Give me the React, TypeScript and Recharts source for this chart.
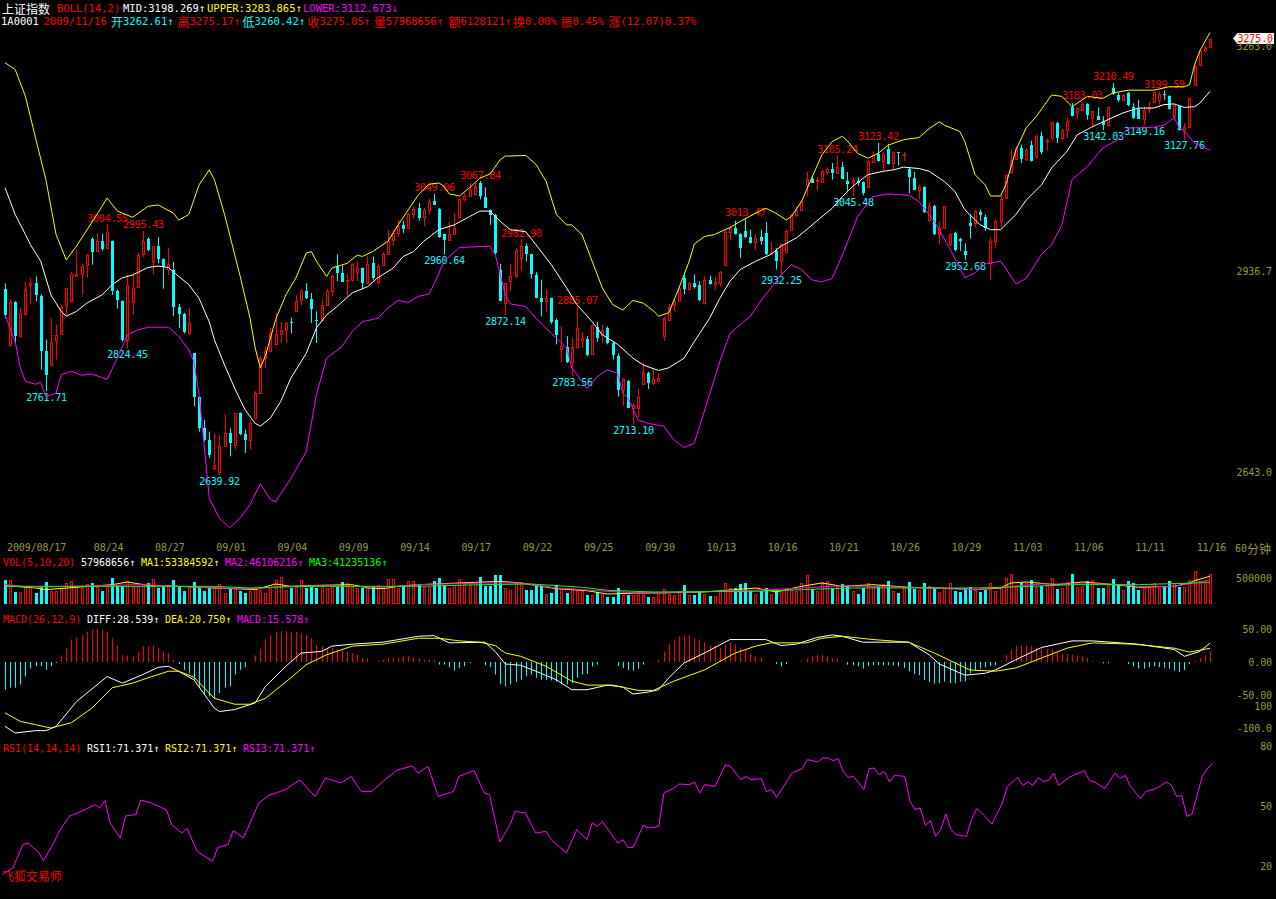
import { ComposedChart, Bar, Line, XAxis, YAxis, ReferenceDot } from "recharts";

// 60-minute bars, 4 per trading day; only the last bar of 08/17 is on screen
const tradingDays = [
  "08/17", "08/18", "08/19", "08/20", "08/21", "08/24", "08/25", "08/26", "08/27", "08/28", "08/31",
  "09/01", "09/02", "09/03", "09/04", "09/07", "09/08", "09/09", "09/10", "09/11", "09/14", "09/15",
  "09/16", "09/17", "09/18", "09/21", "09/22", "09/23", "09/24", "09/25", "09/28", "09/29", "09/30",
  "10/09", "10/12", "10/13", "10/14", "10/15", "10/16", "10/19", "10/20", "10/21", "10/22", "10/23",
  "10/26", "10/27", "10/28", "10/29", "10/30", "11/02", "11/03", "11/04", "11/05", "11/06", "11/09",
  "11/10", "11/11", "11/12", "11/13", "11/16",
];
const hours = ["10:30", "11:30", "14:00", "15:00"];
const labelledDays = [
  "08/17", "08/24", "08/27", "09/01", "09/04", "09/09", "09/14", "09/17", "09/22", "09/25", "09/30",
  "10/13", "10/16", "10/21", "10/26", "10/29", "11/03", "11/06", "11/11", "11/16",
];

// open, high, low, close
const candles: [number, number, number, number][] = [
  [2910, 2919, 2868, 2873], [2829, 2895, 2827, 2892], [2892, 2893, 2832, 2842], [2842, 2883, 2840, 2876],
  [2874, 2921, 2871, 2910], [2917, 2927, 2888, 2919], [2919, 2929, 2893, 2902], [2901, 2903, 2793, 2821],
  [2821, 2837, 2761.7, 2786], [2800, 2868, 2800, 2834], [2835, 2859, 2808, 2844], [2845, 2888, 2844, 2885],
  [2887, 2912, 2872, 2912], [2893, 2936, 2892, 2932], [2930, 2968, 2930, 2932], [2932, 2948, 2902, 2944],
  [2945, 2962, 2927, 2960], [2984, 2986, 2946, 2964], [2966, 2992, 2966, 2980], [2980, 2991, 2966, 2969],
  [2971, 3004.5, 2971, 2994], [2980, 2981, 2902, 2907], [2907, 2910, 2882, 2895], [2893, 2894, 2834, 2837],
  [2837, 2931, 2824.5, 2916], [2892, 2931, 2873, 2912], [2914, 2964, 2913, 2960], [2961, 2995.4, 2957, 2981],
  [2984, 2986, 2966, 2968], [2951, 2973, 2932, 2973], [2973, 2986, 2948, 2955], [2955, 2955, 2911, 2942],
  [2940, 2971, 2931, 2947], [2939, 2950, 2871, 2885], [2885, 2889, 2854, 2874], [2874, 2876, 2846, 2848],
  [2846, 2883, 2844, 2861], [2817, 2817, 2740, 2754], [2754, 2754, 2703, 2708], [2708, 2720, 2689, 2691],
  [2691, 2703, 2665, 2669], [2650, 2700, 2648, 2655], [2645, 2698, 2639.9, 2682], [2682, 2728, 2682, 2701],
  [2701, 2708, 2667, 2686], [2684, 2730, 2677, 2730], [2730, 2731, 2698, 2699], [2699, 2706, 2672, 2691],
  [2691, 2718, 2677, 2715], [2723, 2762, 2722, 2759], [2759, 2813, 2759, 2810], [2810, 2827, 2796, 2820],
  [2821, 2854, 2820, 2845], [2830, 2876, 2830, 2845], [2845, 2863, 2832, 2851], [2851, 2863, 2832, 2861],
  [2863, 2869, 2846, 2861], [2878, 2902, 2878, 2893], [2895, 2910, 2887, 2907], [2907, 2919, 2896, 2898],
  [2896, 2905, 2861, 2882], [2866, 2878, 2832, 2864], [2866, 2896, 2864, 2888], [2888, 2910, 2887, 2907],
  [2907, 2931, 2900, 2930], [2944, 2961, 2922, 2934], [2934, 2945, 2921, 2921], [2922, 2932, 2900, 2924],
  [2923, 2948, 2922, 2947], [2936, 2951, 2922, 2941], [2941, 2942, 2910, 2919], [2919, 2958, 2918, 2947],
  [2948, 2958, 2924, 2927], [2921, 2947, 2918, 2944], [2945, 2964, 2944, 2961], [2961, 2997, 2961, 2980],
  [2982, 2997, 2973, 2992], [2992, 3011, 2986, 3002], [3004, 3010, 2992, 2998], [2999, 3021, 2999, 3020],
  [3020, 3031, 3013, 3027.5], [3028, 3036, 3010, 3014], [3015, 3028.5, 3002, 3026], [3026, 3042, 3019, 3039],
  [3039, 3049.1, 3033, 3033], [3027.5, 3028.5, 2985, 2987], [2990, 2991, 2960.6, 2982], [2982, 3008, 2982, 2991],
  [2991, 3021, 2991, 3000], [3016, 3042, 3015, 3041], [3041, 3050, 3038, 3045.5], [3045.5, 3065, 3045, 3054],
  [3049, 3065, 3048, 3060], [3065, 3067.8, 3041, 3045.5], [3044, 3058.6, 3028, 3028.5], [3026, 3026, 3004, 3019],
  [3019, 3020, 2961, 2963], [2939, 2947, 2893, 2893], [2890, 2919, 2872.1, 2919], [2922, 2947, 2907, 2929],
  [2929, 2970, 2926, 2968], [2956, 2982.9, 2937, 2973], [2973, 2977, 2951, 2961], [2961, 2962, 2926, 2932],
  [2931, 2935, 2897, 2898], [2897, 2924, 2871, 2892], [2893, 2910, 2878, 2897], [2898, 2898, 2860, 2863],
  [2866, 2868, 2830, 2844], [2824, 2856, 2805, 2827], [2826, 2842, 2803, 2805], [2805, 2839, 2783.6, 2826],
  [2826, 2885.1, 2824, 2854], [2837, 2848, 2825, 2840], [2838, 2842, 2813, 2815], [2816, 2859, 2815, 2858],
  [2855, 2863, 2834, 2839], [2844, 2859, 2832, 2851], [2854, 2856, 2830, 2832], [2832, 2834, 2808, 2815],
  [2813, 2817, 2754, 2764], [2764, 2781, 2740, 2779], [2777, 2778, 2737, 2738], [2738, 2745, 2713.1, 2742],
  [2738, 2765.5, 2723, 2754], [2772, 2803, 2772, 2788], [2788, 2790, 2765, 2774], [2774, 2795, 2771, 2780],
  [2777, 2788, 2775, 2780.5], [2842, 2871, 2835, 2868], [2866, 2889, 2865, 2885], [2887, 2896, 2878, 2893],
  [2893, 2914, 2892, 2912], [2927, 2931, 2903, 2910], [2911, 2921, 2910, 2919], [2919, 2932, 2911, 2914],
  [2916, 2922, 2893, 2895], [2890, 2929, 2888, 2923], [2923, 2930, 2917, 2918], [2918, 2928, 2910, 2921],
  [2919, 2937, 2914, 2936], [2946, 2997, 2945, 2994], [2994, 3002, 2982, 3000], [3000, 3010, 2990, 2990],
  [2991, 2992, 2956, 2971], [2995, 3013.5, 2985, 2987], [2986, 2997, 2977, 2977], [2979, 2990, 2968, 2985],
  [2986, 2997, 2975, 2981], [2992, 3008, 2960, 2961], [2961, 2979, 2960, 2964], [2966, 2970, 2939, 2952],
  [2952, 2977, 2932.3, 2976], [2964, 2997, 2962, 2995], [2997, 3020, 2997, 3018], [3018, 3031, 3015, 3025],
  [3025, 3039, 3024, 3038], [3062.5, 3081, 3045, 3071], [3071, 3073, 3065, 3065], [3068, 3073, 3054, 3070],
  [3066, 3084, 3065, 3083], [3081, 3088, 3077, 3086], [3086, 3094, 3070, 3079], [3079, 3105.2, 3079, 3088],
  [3088, 3095.5, 3071, 3071], [3068, 3081, 3054, 3063], [3066, 3072, 3045.5, 3070], [3068, 3073, 3061, 3065],
  [3066, 3067, 3047, 3050], [3058.6, 3099, 3058, 3096.5], [3095.5, 3111, 3094, 3105], [3107, 3123.4, 3096, 3097.5],
  [3097.5, 3110, 3083, 3107], [3115, 3122, 3092, 3093], [3094, 3111, 3084, 3110], [3110, 3110.5, 3090.5, 3108],
  [3106, 3110, 3097, 3107], [3086, 3087, 3050, 3073], [3072, 3081, 3055, 3055], [3055, 3062.5, 3041, 3058.6],
  [3058.6, 3060, 3021, 3023], [3011.5, 3037, 3009, 3031], [3032, 3033, 2989, 2990], [2991, 3009, 2976, 3000],
  [3000, 3031, 2999, 3031], [2976, 2992, 2973, 2991], [2992, 2994, 2966, 2968], [2984, 2985, 2966, 2981],
  [2966, 2977, 2952.7, 2960], [3007, 3019, 2984, 3002], [3007, 3026, 3000, 3024], [3023, 3026, 3010, 3018],
  [3015, 3019, 2995, 3000], [2948, 2986, 2924, 2981], [2980, 3011.5, 2970, 3010], [3010, 3045.5, 3000, 3041],
  [3043, 3078, 3042, 3077], [3081, 3113, 3079, 3097], [3100, 3118, 3099, 3116], [3116, 3121, 3094, 3100],
  [3100, 3115, 3097, 3113], [3120, 3126.5, 3096, 3097], [3104, 3136, 3100, 3134], [3133, 3140, 3107, 3110],
  [3126, 3129.4, 3112, 3128], [3131, 3154, 3128, 3154], [3152, 3154, 3123, 3131], [3130, 3144, 3128, 3142],
  [3142, 3159.5, 3130, 3155], [3175, 3181, 3163, 3163], [3167, 3174.5, 3158.5, 3174], [3171.6, 3183, 3170, 3180],
  [3180, 3181, 3157, 3164], [3159.5, 3169, 3146, 3169], [3163, 3175, 3157, 3157], [3155.6, 3162, 3142, 3150],
  [3150, 3176.5, 3147, 3175], [3203, 3210.5, 3193, 3194.5], [3193.5, 3196, 3183, 3185], [3186, 3194.5, 3185, 3193.5],
  [3196, 3197.5, 3176.5, 3178], [3175, 3181, 3158.5, 3159.5], [3173, 3186, 3158, 3158.5], [3158.5, 3176.5, 3149.2, 3171.6],
  [3173, 3183, 3167, 3175], [3183, 3198, 3181, 3197], [3185, 3198, 3179, 3194.5], [3194.5, 3199.6, 3186, 3192.5],
  [3191, 3192.5, 3171.6, 3173], [3163, 3179, 3157, 3178], [3176.5, 3177, 3141, 3142], [3144, 3152, 3127.8, 3146],
  [3146, 3189, 3145, 3188], [3207, 3236, 3206, 3235], [3236, 3259, 3235, 3257.5], [3258, 3265, 3255, 3262],
  [3262.61, 3275.17, 3260.42, 3275.05],
];

// BOLL(14,2) as [bar, value]
const bollUpper: [number, number][] = [
  [0, 3240], [2, 3230], [4, 3191], [6, 3130], [8, 3070], [10, 2990], [12, 2953], [14, 2973], [18, 3019], [20, 3043],
  [22, 3024], [25, 3015], [28, 3031], [30, 3033], [33, 3021], [34, 3011], [36, 3019], [38, 3062], [40, 3084], [41, 3070],
  [43, 3019], [46, 2931], [48, 2868], [49, 2825], [50, 2796], [51, 2813], [53, 2866], [55, 2902], [57, 2927], [59, 2963],
  [60, 2965], [61, 2951], [63, 2929], [64, 2941], [67, 2948], [69, 2960], [70, 2958], [72, 2965], [75, 2980], [77, 3004],
  [79, 3026], [81, 3048], [83, 3063], [85, 3065], [86, 3060], [87, 3049], [89, 3046], [91, 3058], [93, 3072], [95, 3078],
  [97, 3099], [98, 3104], [102, 3105], [104, 3092], [106, 3067], [108, 3019], [110, 3004], [111, 3004], [113, 2990], [115, 2951],
  [117, 2912], [119, 2888], [121, 2880], [123, 2894], [125, 2890], [127, 2879], [128, 2871], [130, 2876], [132, 2912], [134, 2951],
  [135, 2976], [137, 2987], [139, 2990], [141, 2997], [142, 3000], [144, 3009], [147, 3021], [149, 3028], [151, 3021], [153, 3011],
  [154, 3016], [156, 3038], [158, 3072], [160, 3106], [162, 3125], [164, 3133], [165, 3126], [167, 3108], [169, 3101], [171, 3108],
  [173, 3120], [176, 3128], [179, 3131], [181, 3144], [183, 3154], [184, 3149], [187, 3140], [188, 3125], [190, 3077], [192, 3062],
  [193, 3046], [195, 3046], [196, 3062], [198, 3113], [200, 3145], [202, 3162], [205, 3193], [207, 3191], [209, 3176], [212, 3191],
  [215, 3188], [217, 3196], [220, 3200], [225, 3200], [228, 3205], [231, 3205], [232, 3208], [233, 3237], [234, 3257], [236, 3283.9],
];
const bollMid: [number, number][] = [
  [0, 3058], [2, 3019], [4, 2990], [5, 2975], [7, 2951], [9, 2902], [11, 2878], [12, 2871], [14, 2878], [16, 2890],
  [19, 2902], [21, 2917], [23, 2927], [25, 2931], [28, 2942], [30, 2944], [32, 2942], [34, 2929], [36, 2917], [38, 2897],
  [40, 2863], [41, 2837], [43, 2800], [45, 2766], [47, 2735], [49, 2715], [50, 2711], [52, 2723], [54, 2747], [56, 2781],
  [59, 2817], [61, 2854], [63, 2873], [65, 2885], [68, 2905], [71, 2914], [73, 2927], [76, 2941], [78, 2958], [80, 2965],
  [82, 2980], [85, 2997], [88, 3004], [91, 3016], [93, 3024], [95, 3024], [97, 3009], [99, 2997], [102, 2994], [104, 2975],
  [107, 2946], [110, 2912], [112, 2888], [115, 2863], [117, 2844], [120, 2830], [123, 2810], [125, 2800], [128, 2792], [130, 2796],
  [133, 2810], [135, 2834], [138, 2868], [140, 2897], [142, 2922], [144, 2939], [147, 2951], [150, 2961], [152, 2973], [155, 2985],
  [157, 2997], [160, 3016], [162, 3028], [164, 3045], [166, 3060], [169, 3077], [172, 3082], [174, 3084], [176, 3088], [179, 3086],
  [181, 3082], [184, 3067], [186, 3053], [188, 3026], [191, 3004], [193, 2997], [195, 2997], [198, 3019], [200, 3040], [203, 3062],
  [205, 3087], [208, 3111], [210, 3135], [213, 3147], [216, 3157], [219, 3167], [222, 3174], [225, 3174], [227, 3179], [229, 3180],
  [231, 3175], [233, 3176], [234, 3181], [236, 3198.3],
];
const bollLower: [number, number][] = [
  [0, 2873], [2, 2834], [3, 2796], [4, 2776], [6, 2772], [7, 2775], [8, 2754], [10, 2759], [11, 2786], [13, 2791],
  [15, 2785], [17, 2787], [20, 2779], [22, 2810], [24, 2844], [26, 2851], [28, 2855], [32, 2855], [34, 2842], [36, 2822],
  [37, 2805], [38, 2757], [39, 2684], [40, 2606], [42, 2577], [44, 2563], [46, 2577], [48, 2597], [50, 2627], [52, 2604],
  [53, 2601], [56, 2635], [59, 2674], [61, 2757], [63, 2810], [66, 2827], [68, 2849], [70, 2863], [73, 2868], [75, 2883],
  [77, 2894], [79, 2891], [81, 2900], [83, 2903], [84, 2917], [86, 2951], [89, 2971], [95, 2973], [96, 2961], [98, 2902],
  [99, 2889], [102, 2885], [104, 2868], [107, 2846], [110, 2825], [111, 2796], [114, 2766], [116, 2783], [118, 2793], [120, 2788],
  [121, 2759], [122, 2752], [124, 2720], [126, 2715], [129, 2711], [131, 2691], [133, 2680], [135, 2686], [138, 2757], [140, 2805],
  [142, 2846], [146, 2871], [148, 2893], [150, 2912], [152, 2931], [154, 2946], [156, 2939], [158, 2924], [160, 2921], [162, 2926],
  [164, 2960], [167, 3016], [170, 3045], [173, 3049], [177, 3047], [179, 3038], [182, 3009], [185, 2970], [188, 2927], [190, 2934],
  [192, 2947], [195, 2951], [196, 2941], [198, 2918], [200, 2926], [203, 2961], [205, 2975], [207, 3004], [209, 3070], [212, 3089],
  [215, 3116], [218, 3128], [220, 3145], [225, 3146], [227, 3149], [229, 3160], [230, 3145], [231, 3140], [233, 3123], [236, 3112.7],
];

const hiMarks: [number, string][] = [
  [20, "3004.55"], [27, "2995.43"], [84, "3049.06"], [93, "3067.84"], [101, "2982.90"], [112, "2885.07"],
  [145, "3013.47"], [163, "3105.24"], [171, "3123.42"], [211, "3183.03"], [217, "3210.49"], [227, "3199.59"],
];
const loMarks: [number, string][] = [
  [8, "2761.71"], [24, "2824.45"], [42, "2639.92"], [86, "2960.64"], [98, "2872.14"], [111, "2783.56"],
  [123, "2713.10"], [152, "2932.25"], [166, "3045.48"], [188, "2952.68"], [215, "3142.03"], [223, "3149.16"],
  [231, "3127.76"],
];

// volume in thousands of X100 shares
const volumes = [
  468, 455, 231, 231, 340, 321, 212, 321, 423, 256, 244, 308, 404, 449, 340, 308, 385, 404, 321, 244,
  340, 500, 372, 340, 436, 321, 340, 372, 404, 481, 308, 321, 372, 455, 321, 244, 308, 423, 308, 244,
  308, 321, 385, 212, 308, 308, 244, 212, 244, 308, 276, 212, 308, 468, 513, 276, 308, 321, 455, 308,
  321, 308, 340, 308, 340, 321, 423, 404, 321, 308, 308, 321, 340, 372, 308, 487, 481, 308, 372, 436,
  449, 372, 321, 321, 436, 500, 372, 308, 372, 487, 385, 385, 417, 513, 353, 353, 551, 551, 308, 263,
  404, 423, 276, 276, 372, 353, 192, 212, 372, 308, 212, 308, 276, 256, 167, 167, 231, 192, 128, 128,
  308, 179, 167, 167, 231, 244, 128, 128, 192, 295, 192, 179, 256, 359, 179, 167, 244, 192, 147, 147,
  256, 397, 308, 308, 385, 397, 244, 192, 244, 308, 192, 244, 276, 295, 276, 256, 404, 551, 295, 256,
  423, 436, 308, 340, 385, 340, 256, 192, 308, 404, 340, 340, 385, 449, 256, 212, 321, 423, 295, 276,
  404, 340, 308, 231, 308, 404, 244, 231, 308, 321, 276, 231, 276, 404, 256, 308, 500, 577, 340, 404,
  404, 468, 321, 340, 359, 500, 295, 308, 423, 577, 321, 340, 449, 468, 308, 308, 385, 487, 372, 276,
  436, 404, 276, 308, 340, 404, 308, 321, 436, 404, 321, 321, 468, 641, 449, 449, 580,
];
const volMa1: [number, number][] = [
  [0, 353], [6, 308], [8, 276], [14, 321], [21, 372], [24, 423], [28, 359], [34, 340], [41, 308], [45, 295],
  [49, 276], [53, 385], [56, 340], [61, 359], [68, 372], [71, 308], [74, 295], [77, 340], [81, 372], [89, 404],
  [97, 436], [101, 404], [108, 295], [114, 256], [118, 192], [124, 212], [128, 212], [137, 231], [143, 276], [147, 308],
  [151, 231], [156, 340], [160, 404], [164, 340], [170, 372], [177, 321], [183, 308], [190, 276], [195, 308], [197, 404],
  [200, 423], [206, 372], [211, 423], [216, 385], [222, 321], [229, 340], [232, 404], [233, 449], [236, 534],
];
const volMa2: [number, number][] = [
  [0, 372], [6, 321], [12, 340], [21, 359], [27, 372], [34, 340], [41, 308], [49, 295], [55, 340], [64, 353],
  [74, 321], [81, 372], [94, 404], [101, 404], [108, 308], [116, 256], [124, 212], [134, 231], [143, 256], [150, 276],
  [156, 308], [164, 350], [177, 321], [190, 276], [197, 340], [203, 385], [216, 385], [222, 340], [229, 340], [236, 461],
];
const volMa3: [number, number][] = [
  [0, 340], [20, 340], [41, 340], [48, 308], [52, 321], [60, 340], [81, 340], [94, 372], [103, 385], [113, 321],
  [118, 263], [127, 231], [147, 244], [156, 276], [166, 308], [177, 308], [190, 308], [196, 321], [209, 372], [222, 372],
  [236, 412],
];

// MACD(26,12,9)
const macdHist = [
  -42, -39, -39, -34, -22, -10, -6.5, -6.5, -12, -6.5, -1.5, 10, 21, 34, 37, 41, 46, 49, 50.5, 49,
  46, 36, 25, 10, 10, 8.6, 15, 24, 24, 25, 21, 16, 13.6, 3.5, -3, -12, -17, -27, -39, -49,
  -52, -55.5, -47, -39, -37, -19, -12, -8, 0, 10, 20, 34, 41, 45, 46.5, 46.5, 45.5, 45.5, 44, 41,
  36, 26, 24, 21, 21, 19, 17, 15, 13.6, 11, 6, 5, 1, 2, 3.5, 6, 7, 7, 8.6, 8.6,
  7, 5, 3.5, 3.5, 3.5, -4, -4, -8, -13, -9, -6.5, -1.5, 0, 0, -5, -8, -19, -33, -37, -34,
  -30, -27, -22, -19, -24, -27, -27, -28, -30, -34, -34, -32, -24, -19, -18, -6.5, -4, 0, 0, 0.5,
  -6.5, -9, -12, -13, -10, -4, 0, 1, 3.5, 16, 27, 34, 39, 40, 41, 36, 34, 30, 25, 25,
  21, 26, 29, 27, 22, 19, 13.6, 8.6, 7, 0, 0, -3, -6.5, -3, 0, 0, 2, 5, 8.6, 10,
  11, 8.6, 6, 5, 1, -4, -5, -6.5, -10, -6.5, -5, -5, -5, -5, -5, -6.5, -9, -14, -18, -20,
  -27, -30, -33, -32, -30, -32, -32, -30, -29, -17, -13, -10, -8, -6.5, -5, 2, 11, 19, 24, 25,
  25, 24, 22, 21, 20, 19, 16, 12, 12, 11, 10, 8.6, 6, 2, 0.5, -2, -2, 0, 0, 0,
  -3, -6.5, -10, -10, -8, -6.5, -8, -9, -10, -13, -15, -12, -3, 2, 6, 10, 15.6,
];
const diffPts: [number, number][] = [
  [0, -97.5], [2, -107.6], [6, -104], [8, -104], [10, -97.5], [14, -60], [20, -22], [23, -32], [27, -19], [30, -8],
  [32, -6.5], [34, -14], [37, -27], [41, -70], [42, -75], [45, -72], [49, -62], [51, -37], [55, -6.5], [58, 13.6],
  [62, 16], [64, 24], [68, 27], [74, 30], [81, 39], [84, 40], [87, 29], [94, 30], [96, 16], [98, -3],
  [101, -5], [104, -14], [108, -27], [111, -42], [114, -42], [118, -35], [121, -38], [123, -48.5], [126, -45.5], [128, -42],
  [130, -24], [133, -1.5], [137, 13.6], [142, 34], [149, 34], [152, 25], [155, 27], [159, 37], [162, 41], [164, 39],
  [168, 30], [177, 30], [181, 11], [183, -3], [188, -20], [192, -17], [194, -12], [198, 3.5], [203, 22], [209, 32],
  [213, 32], [222, 27], [229, 19], [231, 8.6], [234, 16], [236, 28.5],
];
const deaPts: [number, number][] = [
  [0, -77], [3, -90], [6, -95], [9, -100], [13, -92], [17, -70], [21, -39], [25, -32], [28, -24], [32, -14],
  [34, -14], [37, -23], [41, -55], [45, -64], [48, -64], [51, -55], [56, -24], [59, -4], [63, 11], [68, 24],
  [74, 27], [81, 36], [85, 36], [89, 32], [93, 30], [96, 25], [98, 13.6], [101, 8.6], [106, -6.5], [111, -29],
  [114, -35], [119, -35], [124, -43], [127, -43], [131, -29], [137, -12], [143, 13.6], [147, 24], [150, 29], [157, 29],
  [160, 36], [164, 39], [170, 34], [177, 30], [182, 13.6], [189, -12], [194, -14], [198, -9], [203, 6], [208, 21],
  [213, 29], [221, 27], [229, 21], [232, 15], [236, 20.75],
];

// RSI(14,14,14): the three lines coincide
const rsiPts: [number, number][] = [
  [0, 16], [2, 19], [4, 30.7], [5, 31.5], [7, 27], [8, 22.7], [10, 31.5], [11, 37], [13, 44.8], [16, 48],
  [18, 50.7], [19, 49], [20, 52.7], [21, 41.5], [23, 34], [24, 45], [26, 45.7], [27, 53], [29, 51.5], [32, 48],
  [33, 40.7], [35, 36.5], [36, 38.7], [38, 27.3], [41, 22.3], [42, 29.3], [44, 30.7], [45, 37.7], [47, 34], [50, 51.5],
  [52, 55.3], [55, 58], [58, 63], [61, 54.8], [63, 64], [66, 61.5], [68, 64.8], [70, 57.3], [72, 57.3], [75, 64],
  [77, 68], [80, 70], [81, 66.5], [83, 69.8], [85, 54.8], [88, 57.3], [89, 64.8], [92, 67.7], [94, 56.5], [95, 55.7],
  [97, 32], [99, 40.7], [100, 47.3], [102, 46.5], [104, 36.5], [106, 37.3], [107, 33.2], [110, 26.5], [112, 38.2], [114, 33.2],
  [115, 41.5], [116, 39.8], [117, 42.3], [120, 31.5], [121, 33.2], [122, 29.3], [123, 29.3], [125, 40.3], [126, 39], [128, 39.8],
  [129, 56.5], [131, 59], [132, 61], [134, 60.7], [135, 62], [136, 56.5], [137, 60.7], [139, 59.8], [141, 70.7], [142, 69.8],
  [144, 63.2], [145, 64.8], [146, 63.2], [148, 63.7], [149, 57], [150, 58.2], [151, 54.3], [154, 66.5], [156, 68.7], [157, 73.2],
  [159, 72], [160, 74], [161, 74], [162, 72.7], [163, 73.7], [164, 67], [165, 64.3], [166, 64.8], [168, 58.2], [169, 68.7],
  [170, 69], [171, 65.7], [172, 67.3], [173, 62], [174, 65.3], [176, 64.8], [177, 52.3], [178, 48.2], [179, 49], [180, 40.3],
  [181, 42.7], [182, 34.8], [183, 38.2], [184, 46], [185, 38.2], [186, 35.7], [188, 34.8], [189, 43.2], [190, 48.7], [191, 46.5],
  [193, 41], [195, 51.5], [196, 59.8], [198, 64.3], [199, 60.3], [200, 62], [201, 60.3], [202, 64.3], [203, 62.3], [204, 62.7],
  [205, 66.5], [206, 60.3], [208, 64.3], [211, 67.7], [212, 62.7], [213, 62], [215, 58.7], [217, 66.5], [218, 63.7], [219, 65.3],
  [220, 59.8], [222, 53.7], [223, 57.3], [225, 58.7], [227, 62], [228, 60.3], [229, 54.8], [230, 55.3], [231, 44.8], [232, 46],
  [234, 64.8], [235, 68.7], [236, 71.4],
];

const priceTicks = [2643.0, 2936.7, 3263.0];
const volTicks = [0, 500];
const macdTicks = [50, 0, -50, -100];
const rsiTicks = [20, 50, 80, 100];

const W = 1276;
const PL = 2.45;
const YW = 63.5;
const RED = "#ff0000";
const CYAN = "#00ffff";
const YELLOW = "#ffff00";
const MAGENTA = "#ff00ff";
const WHITE = "#ffffff";
const GREEN = "#00ff00";
const OLIVE = "#999933";
const MONO = "'DejaVu Sans Mono', 'Liberation Mono', monospace";
const CJK = "'Noto Sans CJK SC', sans-serif";

// build the table
const categories: string[] = [];
const firstBarOfDay = new Map<string, string>();
tradingDays.forEach((d, di) => {
  hours.forEach((h, hi) => {
    if (di === 0 && hi < 3) return;
    const cat = `${d} ${h}`;
    if (!firstBarOfDay.has(d)) firstBarOfDay.set(d, cat);
    categories.push(cat);
  });
});
const tickLabel = new Map<string, string>();
labelledDays.forEach((d, k) => tickLabel.set(firstBarOfDay.get(d)!, k === 0 ? `2009/${d}` : d));
const dateTicks = Array.from(tickLabel.keys());

const upperM = new Map(bollUpper);
const midM = new Map(bollMid);
const lowerM = new Map(bollLower);
const ma1M = new Map(volMa1);
const ma2M = new Map(volMa2);
const ma3M = new Map(volMa3);
const diffM = new Map(diffPts);
const deaM = new Map(deaPts);
const rsiM = new Map(rsiPts);
const hiM = new Map(hiMarks);
const loM = new Map(loMarks);

const rows = categories.map((t, i) => {
  const [o, h, l, c] = candles[i];
  return {
    t, o, h, l, c,
    range: [l, h],
    up: c >= o,
    upper: upperM.get(i) ?? null,
    mid: midM.get(i) ?? null,
    lower: lowerM.get(i) ?? null,
    vol: volumes[i],
    ma1: ma1M.get(i) ?? null,
    ma2: ma2M.get(i) ?? null,
    ma3: ma3M.get(i) ?? null,
    macd: macdHist[i],
    diff: diffM.get(i) ?? null,
    dea: deaM.get(i) ?? null,
    rsi: rsiM.get(i) ?? null,
    hiMark: hiM.get(i),
    loMark: loM.get(i),
  };
});
const last = rows[rows.length - 1];

function Candle(props: any) {
  const { x, y, width, height, payload } = props;
  const { o, h, l, c, up, hiMark, loMark } = payload;
  const top = y;
  const bot = y + height;
  const py = (v: number) => (h === l ? top : top + ((h - v) / (h - l)) * (bot - top));
  const cx = Math.round(x + width / 2);
  const bTop = Math.round(Math.min(py(o), py(c)));
  const bBot = Math.round(Math.max(py(o), py(c)));
  const wx = cx + 0.5;
  return (
    <g>
      {up ? (
        <>
          <line x1={wx} x2={wx} y1={top} y2={bTop} stroke={RED} />
          <line x1={wx} x2={wx} y1={bBot} y2={bot} stroke={RED} />
          <rect x={cx - 0.5} y={bTop + 0.5} width={2} height={Math.max(bBot - bTop, 0.01)} fill="#000" stroke={RED} />
        </>
      ) : (
        <>
          <line x1={wx} x2={wx} y1={top} y2={bot} stroke={CYAN} />
          <rect x={cx - 1} y={bTop} width={3} height={Math.max(bBot - bTop, 1)} fill={CYAN} />
        </>
      )}
      {hiMark && (
        <text x={wx} y={top - 6} textAnchor="middle" dominantBaseline="central" fill={RED} fontFamily={MONO} fontSize={10} letterSpacing={-0.2}>
          {hiMark}
        </text>
      )}
      {loMark && (
        <text x={wx} y={bot + 6} textAnchor="middle" dominantBaseline="central" fill={CYAN} fontFamily={MONO} fontSize={10} letterSpacing={-0.2}>
          {loMark}
        </text>
      )}
    </g>
  );
}

function VolBar(props: any) {
  const { x, y, width, height, payload } = props;
  const cx = Math.round(x + width / 2);
  const top = Math.round(y);
  const bot = Math.round(y + height);
  return payload.up ? (
    <rect x={cx - 0.5} y={top + 0.5} width={2} height={Math.max(bot - top - 1, 0.01)} fill="none" stroke={RED} />
  ) : (
    <rect x={cx - 1} y={top} width={3} height={bot - top} fill={CYAN} />
  );
}

function MacdBar(props: any) {
  const { x, y, width, height, payload } = props;
  const cx = Math.round(x + width / 2) + 0.5;
  const a = Math.min(y, y + height);
  const b = Math.max(y, y + height);
  if (b - a < 0.3) return <g />;
  return <line x1={cx} x2={cx} y1={a} y2={b} stroke={payload.macd > 0 ? RED : CYAN} />;
}

function DateTick(props: any) {
  const { x, payload } = props;
  return (
    <text x={x + 2} y={547.5} dominantBaseline="central" fill={OLIVE} fontFamily={MONO} fontSize={10} letterSpacing={-0.1}>
      {tickLabel.get(payload.value)}
    </text>
  );
}

const rightTick = (fmt: (v: number) => string) => (props: any) => (
  <text x={1272} y={props.y} textAnchor="end" dominantBaseline="central" fill={OLIVE} fontFamily={MONO} fontSize={10} letterSpacing={-0.1}>
    {fmt(props.payload.value)}
  </text>
);

function VolTick(props: any) {
  const v = props.payload.value;
  if (v === 0)
    return (
      <g fill={OLIVE} fontFamily={MONO} fontSize={10}>
        <text x={1236} y={props.y} dominantBaseline="central">X100</text>
        <text x={1272} y={props.y} textAnchor="end" dominantBaseline="central">0</text>
      </g>
    );
  return (
    <text x={1272} y={props.y} textAnchor="end" dominantBaseline="central" fill={OLIVE} fontFamily={MONO} fontSize={10}>
      {v * 1000}
    </text>
  );
}

function PriceTag(props: any) {
  const cy = props.cy;
  return (
    <g>
      <polygon points={`1233,${cy} 1237.5,${cy - 5.5} 1274,${cy - 5.5} 1274,${cy + 5.5} 1237.5,${cy + 5.5}`} fill={WHITE} />
      <text x={1273} y={cy} textAnchor="end" dominantBaseline="central" fill={RED} fontFamily={MONO} fontSize={10} letterSpacing={-0.1}>
        {(Math.floor(last.c * 10) / 10).toFixed(1)}
      </text>
    </g>
  );
}

function Txt({ x, y, text, fill, size = 10, spacing = 0 }: { x: number; y: number; text: string; fill: string; size?: number; spacing?: number }) {
  const runs = text.match(/[\u3400-\u9fff]+|[^\u3400-\u9fff]+/g) || [];
  return (
    <text x={x} y={y} fill={fill} dominantBaseline="central" fontFamily={MONO}>
      {runs.map((r, k) =>
        /[\u3400-\u9fff]/.test(r[0]) ? (
          <tspan key={k} fontFamily={CJK} fontSize={12}>{r}</tspan>
        ) : (
          <tspan key={k} fontSize={size} letterSpacing={spacing}>{r}</tspan>
        )
      )}
    </text>
  );
}

const headerLine1: [number, string, string][] = [
  [2, "上证指数", WHITE], [57, "BOLL(14,2)", RED], [123, "MID:3198.269↑", WHITE],
  [207, "UPPER:3283.865↑", YELLOW], [303, "LOWER:3112.673↓", MAGENTA],
];
const headerLine2: [number, string, string][] = [
  [1, "1A0001", WHITE], [43.5, "2009/11/16", RED], [111, "开3262.61↑", CYAN], [177.5, "高3275.17↑", RED],
  [242.5, "低3260.42↑", CYAN], [307.5, "收3275.05↑", RED], [374, "量57968656↑", RED], [448.5, "额6128121↑", RED],
  [513, "换0.00%", RED], [560.5, "振0.45%", RED], [608.5, "涨(12.07)0.37%", RED],
];
const volTitle: [number, string, string][] = [
  [3, "VOL(5,10,20)", RED], [81, "57968656↑", WHITE], [141, "MA1:53384592↑", YELLOW],
  [225, "MA2:46106216↑", MAGENTA], [309, "MA3:41235136↑", GREEN],
];
const macdTitle: [number, string, string][] = [
  [3, "MACD(26,12,9)", RED], [87, "DIFF:28.539↑", WHITE], [165, "DEA:20.750↑", YELLOW], [237, "MACD:15.578↑", MAGENTA],
];
const rsiTitle: [number, string, string][] = [
  [3, "RSI(14,14,14)", RED], [87, "RSI1:71.371↑", WHITE], [165, "RSI2:71.371↑", YELLOW], [243, "RSI3:71.371↑", MAGENTA],
];

const abs = { position: "absolute" as const, left: 0, top: 0 };
const lineProps = { dot: false, activeDot: false, connectNulls: true, isAnimationActive: false, strokeWidth: 1, type: "linear" as const };

export default function App() {
  return (
    <div style={{ position: "absolute", left: 0, top: 0, width: W, height: 899, background: "#000", overflow: "hidden" }}>
      {/* price + BOLL */}
      <ComposedChart width={W} height={554} data={rows} margin={{ top: 30, right: 0, bottom: 0, left: PL }} style={abs}>
        <XAxis dataKey="t" ticks={dateTicks} interval={0} axisLine={false} tickLine={false} height={14} tick={DateTick} />
        <YAxis orientation="right" width={YW} domain={[2545.3, 3287.6]} allowDataOverflow ticks={priceTicks} axisLine={false} tickLine={false} tick={rightTick((v) => v.toFixed(1))} />
        <Bar dataKey="range" shape={(p: any) => <Candle {...p} />} isAnimationActive={false} />
        <Line dataKey="upper" stroke={YELLOW} {...lineProps} />
        <Line dataKey="mid" stroke={WHITE} {...lineProps} />
        <Line dataKey="lower" stroke={MAGENTA} {...lineProps} />
        <ReferenceDot x={last.t} y={last.c} r={0} ifOverflow="visible" shape={(p: any) => <PriceTag {...p} />} />
      </ComposedChart>

      {/* volume */}
      <ComposedChart width={W} height={604} data={rows} margin={{ top: 566, right: 0, bottom: 0, left: PL }} style={abs}>
        <XAxis dataKey="t" hide />
        <YAxis orientation="right" width={YW} domain={[0, 730.8]} allowDataOverflow ticks={volTicks} axisLine={false} tickLine={false} tick={VolTick} />
        <Bar dataKey="vol" shape={(p: any) => <VolBar {...p} />} isAnimationActive={false} />
        <Line dataKey="ma1" stroke={YELLOW} {...lineProps} />
        <Line dataKey="ma2" stroke={MAGENTA} {...lineProps} />
        <Line dataKey="ma3" stroke={GREEN} {...lineProps} />
      </ComposedChart>

      {/* MACD */}
      <ComposedChart width={W} height={740} data={rows} margin={{ top: 620, right: 0, bottom: 0, left: PL }} style={abs}>
        <XAxis dataKey="t" hide />
        <YAxis orientation="right" width={YW} domain={[-118.18, 63.64]} allowDataOverflow ticks={macdTicks} axisLine={false} tickLine={false} tick={rightTick((v) => (v === -100 ? "-100.0" : v.toFixed(2)))} />
        <Bar dataKey="macd" shape={(p: any) => <MacdBar {...p} />} isAnimationActive={false} />
        <Line dataKey="diff" stroke={WHITE} {...lineProps} />
        <Line dataKey="dea" stroke={YELLOW} {...lineProps} />
      </ComposedChart>

      {/* RSI */}
      <ComposedChart width={W} height={880} data={rows} margin={{ top: 700, right: 0, bottom: 0, left: PL }} style={abs}>
        <XAxis dataKey="t" hide />
        <YAxis orientation="right" width={YW} domain={[13, 103]} allowDataOverflow ticks={rsiTicks} axisLine={false} tickLine={false} tick={rightTick((v) => String(v))} />
        <Line dataKey="rsi" stroke={MAGENTA} {...lineProps} />
      </ComposedChart>

      <svg width={W} height={899} style={{ ...abs, pointerEvents: "none" }}>
        {headerLine1.map(([x, s, f]) => <Txt key={s} x={x} y={7.5} text={s} fill={f} size={10.5} />)}
        {headerLine2.map(([x, s, f]) => <Txt key={s} x={x} y={20.5} text={s} fill={f} size={10.5} />)}
        {volTitle.map(([x, s, f]) => <Txt key={s} x={x} y={562} text={s} fill={f} />)}
        {macdTitle.map(([x, s, f]) => <Txt key={s} x={x} y={619} text={s} fill={f} />)}
        {rsiTitle.map(([x, s, f]) => <Txt key={s} x={x} y={748} text={s} fill={f} />)}
        <Txt x={1235} y={548} text="60分钟" fill={OLIVE} />
        <Txt x={2} y={875} text="飞狐交易师" fill={RED} />
      </svg>
    </div>
  );
}
